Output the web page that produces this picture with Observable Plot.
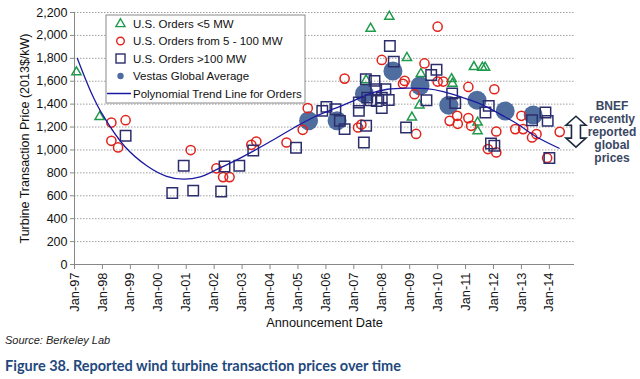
<!DOCTYPE html>
<html><head><meta charset="utf-8">
<script src="https://cdn.jsdelivr.net/npm/d3@7"></script>
<script src="https://cdn.jsdelivr.net/npm/@observablehq/plot@0.6"></script>
<style>
body{margin:0;background:#fff;width:640px;height:379px;overflow:hidden;font-family:"Liberation Sans",Arial,sans-serif;position:relative}
#source{position:absolute;left:5px;top:334px;font-style:italic;font-size:11px;color:#222}
#caption{position:absolute;left:5px;top:357px;font-family:Lato,"Open Sans",sans-serif;font-weight:bold;font-size:14.5px;color:#1f497d}
</style></head><body>
<div id="chart"></div>
<div id="source">Source: Berkeley Lab</div>
<div id="caption">Figure 38. Reported wind turbine transaction prices over time</div>
<script>
const xTicks = [1997,1998,1999,2000,2001,2002,2003,2004,2005,2006,2007,2008,2009,2010,2011,2012,2013,2014];
const xTickLabels = ["Jan-97","Jan-98","Jan-99","Jan-00","Jan-01","Jan-02","Jan-03","Jan-04","Jan-05","Jan-06","Jan-07","Jan-08","Jan-09","Jan-10","Jan-11","Jan-12","Jan-13","Jan-14"];
const yTicks = [0,200,400,600,800,1000,1200,1400,1600,1800,2000,2200];

// U.S. Orders <5 MW
const smallX = [1997.07,1997.9,2007.44,2007.6,2008.27,2008.9,2009.08,2009.35,2009.4,2010.5,2010.53,2011.3,2011.6,2011.7,2011.43,2011.43];
const smallY = [1680,1290,1610,2060,2165,1805,1285,1390,1665,1620,1580,1725,1720,1720,1240,1165];

// U.S. Orders from 5 - 100 MW
const midX = [1998.32,1998.83,1998.32,1998.56,2001.16,2002.08,2002.32,2002.55,2003.33,2003.51,2004.59,2005.35,2005.17,2006.67,2007.15,2007.27,2008.0,2008.82,2008.76,2009.17,2009.23,2009.53,2010.0,2010.0,2010.2,2010.43,2010.7,2010.72,2011.1,2011.1,2011.2,2012.03,2012.1,2011.8,2012.1,2013.0,2012.78,2013.06,2013.38,2013.54,2014.37,2013.92];
const midY = [1239,1260,1080,1022,999,840,763,763,1045,1074,1065,1365,1176,1623,1196,1222,1786,1603,1578,1487,1140,1755,2076,1597,1597,1254,1298,1228,1550,1278,1211,1530,1161,1008,978,1298,1182,1182,1109,1138,1158,930];

// U.S. Orders >100 MW
const bigX = [1998.83,2000.91,2000.5,2001.25,2002.25,2002.37,2002.9,2003.4,2004.93,2005.87,2006.02,2006.34,2006.5,2006.67,2007.18,2007.18,2007.36,2007.44,2007.48,2007.43,2007.74,2007.8,2008.0,2008.0,2008.13,2008.25,2008.29,2008.43,2008.87,2007.6,2007.82,2009.6,2009.77,2009.96,2010.52,2010.63,2011.83,2011.71,2011.91,2012.03,2013.38,2013.86,2013.94,2014.0];
const bigY = [1124,862,624,645,638,856,862,996,1020,1341,1376,1356,1254,1182,1414,1341,1065,1211,1457,1617,1603,1530,1457,1365,1530,1437,1907,1771,1196,1434,1428,1434,1655,1700,1492,1410,1385,1327,1057,1037,1260,1327,1254,930];

// Vestas Global Average
const vestasX = [2005.38,2006.4,2007.38,2008.4,2009.37,2010.4,2011.41,2012.42,2013.42];
const vestasY = [1255,1255,1490,1690,1560,1390,1435,1340,1305];

// Polynomial Trend Line for Orders
const trendX = [1997.1,1997.6,1998.0,1998.8,1999.6,2000.3,2000.9,2001.5,2002.1,2002.7,2003.4,2004.2,2004.9,2005.6,2006.3,2007.0,2007.6,2008.2,2008.9,2009.6,2010.2,2010.8,2011.4,2011.8,2012.4,2012.9,2013.5,2014.35];
const trendY = [1800,1500,1310,1030,860,770,745,765,830,900,990,1100,1200,1290,1360,1430,1495,1530,1540,1535,1510,1465,1415,1370,1290,1220,1120,1015];

// BNEF annotation
const bnefRange = [1290, 1020];
const bnefX = 2014.97;
const bnefLines = ["BNEF","recently","reported","global","prices"];

const zip = (xs, ys) => xs.map((x, i) => ({x, y: ys[i]}));
const small = zip(smallX, smallY), mid = zip(midX, midY), big = zip(bigX, bigY);
const vestas = zip(vestasX, vestasY), trend = zip(trendX, trendY);

const C = {small:"#1e9a4b", mid:"#e0231c", big:"#2c2e6c", vestas:"#4f6d9e", trend:"#1a1aa0"};

const plot = Plot.plot({
  width: 640, height: 333,
  marginLeft: 74, marginRight: 66, marginTop: 12, marginBottom: 69,
  style: {fontFamily: "Liberation Sans, Arial, sans-serif", fontSize: "12px", color: "#111", background: "#fff"},
  x: {domain: [1997, 2014.9]},
  y: {domain: [0, 2200]},
  marks: [
    Plot.gridY(yTicks, {stroke: "#a0a0a0", strokeOpacity: 1, strokeDasharray: "1.5,1.5"}),
    Plot.axisY(yTicks, {tickFormat: d => d3.format(",")(d), tickSize: 4, tickPadding: 3, stroke: "#888",
      label: "Turbine Transaction Price (2013$/kW)", labelAnchor: "center", labelOffset: 54, labelArrow: "none", fontSize: 12.5}),
    Plot.axisX(xTicks, {tickFormat: d => xTickLabels[xTicks.indexOf(d)], tickRotate: -90, tickSize: 5, tickPadding: 3, stroke: "#888",
      label: "Announcement Date", labelAnchor: "center", labelOffset: 62, labelArrow: "none", fontSize: 12.8}),
    Plot.ruleX([1997], {stroke: "#888"}),
    Plot.ruleY([0], {stroke: "#888"}),
    Plot.dot(vestas, {x: "x", y: "y", r: 9.5, fill: C.vestas, stroke: "none"}),
    Plot.dot(small, {x: "x", y: "y", symbol: "triangle", r: 3.4, stroke: C.small, strokeWidth: 1.5, fill: "none"}),
    Plot.dot(mid, {x: "x", y: "y", r: 4.6, stroke: C.mid, strokeWidth: 1.5, fill: "none"}),
    Plot.dot(big, {x: "x", y: "y", symbol: "square", r: 5.9, stroke: C.big, strokeWidth: 1.5, fill: "none"}),
    Plot.line(trend, {x: "x", y: "y", curve: "catmull-rom", stroke: C.trend, strokeWidth: 1.3})
  ]
});
document.getElementById("chart").appendChild(plot);

const svg = d3.select(plot);
const xs = plot.scale("x"), ys = plot.scale("y");

// Legend
const lg = svg.append("g").attr("font-family", "Liberation Sans, Arial, sans-serif").attr("font-size", 11.5).attr("fill", "#111").attr("text-anchor", "start");
lg.append("rect").attr("x", 106).attr("y", 15).attr("width", 199).attr("height", 88).attr("fill", "#fff").attr("stroke", "#8a8a8a");
const items = [
  {label: "U.S. Orders <5 MW", type: "triangle", color: C.small},
  {label: "U.S. Orders from 5 - 100 MW", type: "circle", color: C.mid},
  {label: "U.S. Orders >100 MW", type: "square", color: C.big},
  {label: "Vestas Global Average", type: "dot", color: C.vestas},
  {label: "Polynomial Trend Line for Orders", type: "line", color: C.trend}
];
items.forEach((it, i) => {
  const cy = 23.5 + i * 17.5, cx = 120.5;
  if (it.type === "triangle") lg.append("path").attr("d", d3.symbol(d3.symbolTriangle, 36)()).attr("transform", `translate(${cx},${cy + 0.5})`).attr("fill", "none").attr("stroke", it.color).attr("stroke-width", 1.4);
  if (it.type === "circle") lg.append("circle").attr("cx", cx).attr("cy", cy).attr("r", 3.8).attr("fill", "none").attr("stroke", it.color).attr("stroke-width", 1.4);
  if (it.type === "square") lg.append("rect").attr("x", cx - 4.5).attr("y", cy - 4.5).attr("width", 9).attr("height", 9).attr("fill", "none").attr("stroke", it.color).attr("stroke-width", 1.4);
  if (it.type === "dot") lg.append("circle").attr("cx", cx).attr("cy", cy).attr("r", 3.2).attr("fill", it.color);
  if (it.type === "line") lg.append("line").attr("x1", 107).attr("x2", 131).attr("y1", cy).attr("y2", cy).attr("stroke", it.color).attr("stroke-width", 1.5);
  lg.append("text").attr("x", 133).attr("y", cy).attr("dy", "0.35em").attr("text-anchor", "start").text(it.label);
});

// BNEF double arrow + text
const cx = xs.apply(bnefX), ty = ys.apply(bnefRange[0]), by = ys.apply(bnefRange[1]);
const hw = 10, sw = 4.5, hh = 9;
svg.append("path")
  .attr("d", `M${cx},${ty}L${cx+hw},${ty+hh}L${cx+sw},${ty+hh}L${cx+sw},${by-hh}L${cx+hw},${by-hh}L${cx},${by}L${cx-hw},${by-hh}L${cx-sw},${by-hh}L${cx-sw},${ty+hh}L${cx-hw},${ty+hh}Z`)
  .attr("fill", "#fff").attr("stroke", "#1d2a40").attr("stroke-width", 1.6).attr("stroke-linejoin", "miter");
const bt = svg.append("g").attr("font-family", "Liberation Sans, Arial, sans-serif").attr("font-weight", "bold").attr("font-size", 12).attr("fill", "#3b4763").attr("text-anchor", "middle");
bnefLines.forEach((t, i) => bt.append("text").attr("x", 612).attr("y", (ty + by) / 2 - 26 + i * 13).attr("dy", "0.35em").text(t));
</script>
</body></html>
